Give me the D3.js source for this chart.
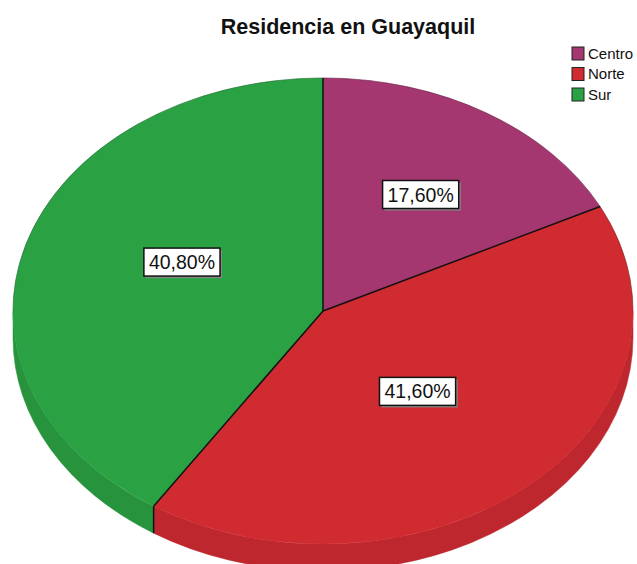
<!DOCTYPE html>
<html>
<head>
<meta charset="utf-8">
<script src="https://cdn.jsdelivr.net/npm/d3@7"></script>
<style>
  body { margin: 0; background: #fff; }
  svg { display: block; font-family: "Liberation Sans", Arial, sans-serif; }
</style>
</head>
<body>
<script>
// data
const categories = ["Centro", "Norte", "Sur"];
const percents = [17.6, 41.6, 40.8];
const colors = ["#a4376f", "#d02b31", "#2aa244"];
const sideColors = ["#932f63", "#bd272d", "#27943d"];
const title = "Residencia en Guayaquil";

// layout
const width = 637, height = 564;
const cx = 323, cy = 311, rx = 310, ry = 233, depth = 27;
// label centres as fractions of the radii
const labelOffsets = [[0.315, -0.5], [0.305, 0.345], [-0.455, -0.21]];

const svg = d3.select("body").append("svg")
  .attr("width", width)
  .attr("height", height);

// title
svg.append("text")
  .attr("x", 348)
  .attr("y", 34)
  .attr("text-anchor", "middle")
  .attr("font-size", 21.5)
  .attr("font-weight", "bold")
  .attr("fill", "#111")
  .text(title);

// pie angles, clockwise from 12 o'clock
const pie = d3.pie().sort(null).value(d => d).startAngle(0).endAngle(2 * Math.PI);
const arcs = pie(percents);

const px = a => cx + rx * Math.sin(a);
const py = a => cy - ry * Math.cos(a);

// side walls (only the front half is visible)
const g = svg.append("g");
arcs.forEach((d, i) => {
  const s = Math.max(d.startAngle, Math.PI / 2);
  const e = Math.min(d.endAngle, 3 * Math.PI / 2);
  if (e <= s) return;
  const large = (e - s) > Math.PI ? 1 : 0;
  const path = `M${px(s)},${py(s)} A${rx},${ry} 0 ${large} 1 ${px(e)},${py(e)}`
    + ` L${px(e)},${py(e) + depth} A${rx},${ry} 0 ${large} 0 ${px(s)},${py(s) + depth} Z`;
  g.append("path")
    .attr("d", path)
    .attr("fill", sideColors[i])
    .attr("stroke", sideColors[i])
    .attr("stroke-width", 0.5);
});

// vertical edges where slice boundaries meet the front wall
arcs.forEach(d => {
  const a = d.startAngle;
  if (a > Math.PI / 2 && a < 3 * Math.PI / 2) {
    g.append("line")
      .attr("x1", px(a)).attr("y1", py(a))
      .attr("x2", px(a)).attr("y2", py(a) + depth)
      .attr("stroke", "#111").attr("stroke-width", 1.5);
  }
});

// top faces
arcs.forEach((d, i) => {
  const large = (d.endAngle - d.startAngle) > Math.PI ? 1 : 0;
  const path = `M${cx},${cy} L${px(d.startAngle)},${py(d.startAngle)}`
    + ` A${rx},${ry} 0 ${large} 1 ${px(d.endAngle)},${py(d.endAngle)} Z`;
  g.append("path")
    .attr("d", path)
    .attr("fill", colors[i])
    .attr("stroke", colors[i])
    .attr("stroke-width", 0.5);
});

// slice boundary lines
arcs.forEach(d => {
  g.append("line")
    .attr("x1", cx).attr("y1", cy)
    .attr("x2", px(d.startAngle)).attr("y2", py(d.startAngle))
    .attr("stroke", "#111").attr("stroke-width", 1.5);
});

// faint rim on the back half of the top ellipse
g.append("path")
  .attr("d", `M${px(-Math.PI / 2)},${py(-Math.PI / 2)} A${rx},${ry} 0 0 1 ${px(Math.PI / 2)},${py(Math.PI / 2)}`)
  .attr("fill", "none").attr("stroke", "#000").attr("stroke-opacity", 0.3)
  .attr("stroke-width", 0.8);

// value labels
const fmt = v => v.toFixed(2).replace(".", ",") + "%";
arcs.forEach((d, i) => {
  const lx = cx + labelOffsets[i][0] * rx;
  const ly = cy + labelOffsets[i][1] * ry;
  const lg = svg.append("g").attr("transform", `translate(${lx},${ly})`);
  const t = lg.append("text")
    .attr("text-anchor", "middle")
    .attr("dy", "0.36em")
    .attr("font-size", 19.5)
    .attr("fill", "#111")
    .text(fmt(percents[i]));
  const w = t.node().getComputedTextLength() + 10;
  const h = 28;
  lg.insert("rect", "text")
    .attr("x", -w / 2 + 2).attr("y", -h / 2 + 2)
    .attr("width", w).attr("height", h)
    .attr("fill", "#888");
  lg.insert("rect", "text")
    .attr("x", -w / 2).attr("y", -h / 2)
    .attr("width", w).attr("height", h)
    .attr("fill", "#fff").attr("stroke", "#111").attr("stroke-width", 1.5);
});

// legend
const legend = svg.append("g").attr("transform", "translate(572,47)");
categories.forEach((c, i) => {
  const row = legend.append("g").attr("transform", `translate(0,${i * 20.5})`);
  row.append("rect")
    .attr("width", 12).attr("height", 13)
    .attr("fill", colors[i]).attr("stroke", "#222").attr("stroke-width", 1);
  row.append("text")
    .attr("x", 16).attr("y", 11.5)
    .attr("font-size", 15)
    .attr("fill", "#111")
    .text(c);
});
</script>
</body>
</html>
